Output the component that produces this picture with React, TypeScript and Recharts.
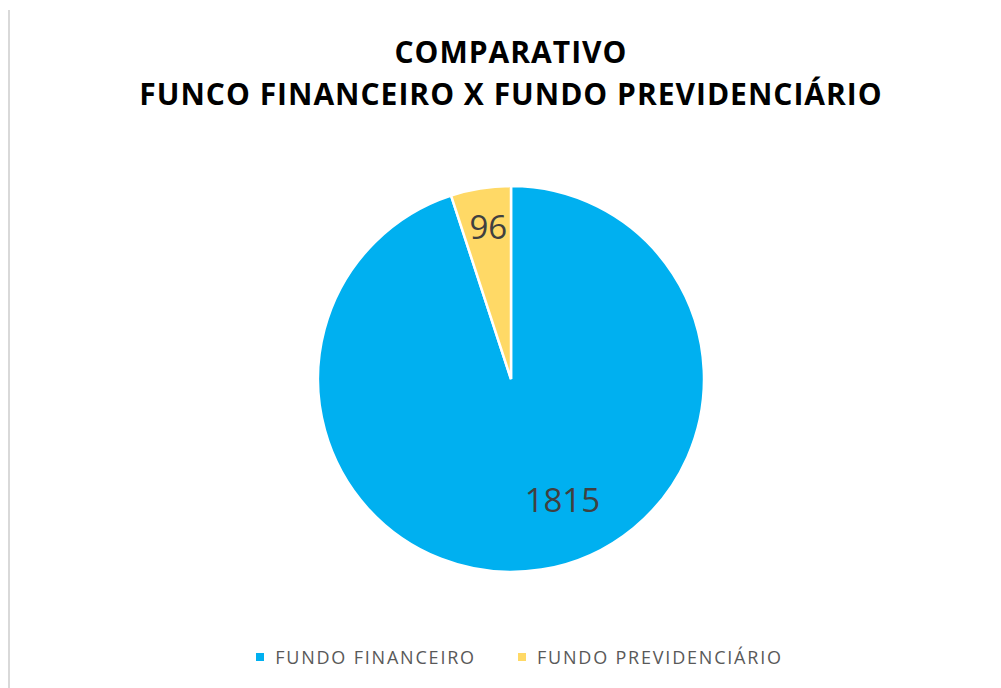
import { Cell, Legend, Pie, PieChart } from "recharts"

const categories = ["FUNDO FINANCEIRO", "FUNDO PREVIDENCIÁRIO"]
const values = [1815, 96]
const colors = ["#00B0F0", "#FFD966"]

const data = categories.map((name, i) => ({ name, value: values[i] }))

const RAD = Math.PI / 180
// where each value label sits inside its slice (fraction of radius, angle shift)
const labelSpots = [
  { r: 0.68, shift: 14 },
  { r: 0.8, shift: -0.6 },
]

function SliceLabel(props: any) {
  const { cx, cy, outerRadius, midAngle, index, value } = props
  const spot = labelSpots[index]
  const a = (midAngle + spot.shift) * RAD
  const x = cx + outerRadius * spot.r * Math.cos(a)
  const y = cy - outerRadius * spot.r * Math.sin(a)
  return (
    <text
      x={x}
      y={y}
      fill="#404040"
      fontSize={33}
      fontFamily="'Open Sans', sans-serif"
      textAnchor="middle"
      dominantBaseline="central"
    >
      {value}
    </text>
  )
}

function LegendBox() {
  return (
    <div
      style={{
        display: "flex",
        justifyContent: "center",
        paddingLeft: 30,
        fontFamily: "'Open Sans', sans-serif",
        fontSize: 18,
        letterSpacing: 1.8,
        color: "#595959",
      }}
    >
      {categories.map((c, i) => (
        <div key={c} style={{ display: "flex", alignItems: "center", marginRight: i === 0 ? 42 : 0 }}>
          <span style={{ width: 8, height: 8, background: colors[i], marginRight: 11, display: "inline-block" }} />
          <span>{c}</span>
        </div>
      ))}
    </div>
  )
}

export default function App() {
  return (
    <div style={{ position: "relative", width: 993, height: 680, background: "#fff" }}>
      <div style={{ position: "absolute", left: 0, top: 2, bottom: 0, width: 2, background: "#d9d9d9" }} />
      <div
        style={{
          position: "absolute",
          top: 23,
          left: 0,
          width: 1006,
          textAlign: "center",
          fontFamily: "'Open Sans', sans-serif",
          fontWeight: 700,
          fontSize: 30,
          letterSpacing: 1,
          lineHeight: "42px",
          color: "#000",
        }}
      >
        COMPARATIVO
        <br />
        FUNCO FINANCEIRO X FUNDO PREVIDENCIÁRIO
      </div>
      <PieChart
        width={993}
        height={680}
        margin={{ top: 0, right: 0, bottom: 0, left: 0 }}
        style={{ position: "absolute", top: 0, left: 0 }}
      >
        <Pie
          data={data}
          dataKey="value"
          nameKey="name"
          cx={503}
          cy={371}
          outerRadius={193}
          startAngle={90}
          endAngle={-270}
          stroke="#fff"
          strokeWidth={2.5}
          label={SliceLabel}
          labelLine={false}
          isAnimationActive={false}
        >
          {data.map((d, i) => (
            <Cell key={d.name} fill={colors[i]} />
          ))}
        </Pie>
        <Legend content={<LegendBox />} wrapperStyle={{ top: 637, left: 0, width: 993 }} />
      </PieChart>
    </div>
  )
}
